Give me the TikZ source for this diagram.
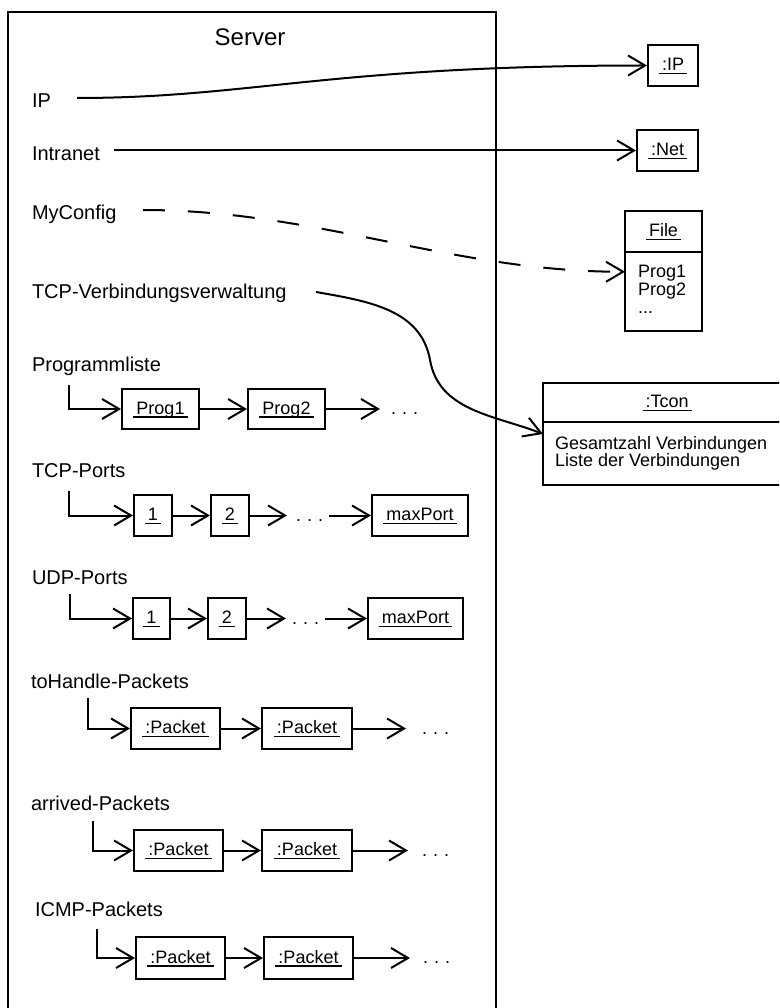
\documentclass[tikz,border=0pt]{standalone}
\usepackage{fontspec}
\setmainfont{Liberation Sans}
\usetikzlibrary{arrows.meta,calc}

% underlined object name, the rule running a little past the text
\newsavebox\ulbox
\newcommand\ulx[1]{\sbox\ulbox{#1}\rlap{\kern-3pt\rule[-3.3pt]{\dimexpr\wd\ulbox+6pt\relax}{1.3pt}}\usebox\ulbox}

\begin{document}
\begin{tikzpicture}[x=1pt,y=-1pt,line width=2pt,
  lbl/.style={anchor=base west,inner sep=0pt,font=\fontsize{20}{22}\selectfont},
  obj/.style={draw,rectangle,inner sep=0pt,minimum height=41pt,
              text height=13.5pt,text depth=3pt,font=\fontsize{18}{20}\selectfont},
  head/.style={obj,outer sep=0pt},
  frame/.style={draw,rectangle,inner sep=0pt,outer sep=0pt,anchor=north},
  txt/.style={anchor=base west,inner sep=0pt,font=\fontsize{18}{20}\selectfont},
  arr/.style={-{Straight Barb[length=17pt,width=20pt]}},
  cfgline/.style={dash pattern=on 22pt off 23pt}
]
\useasboundingbox (0,0) rectangle (779,1008);
\clip (0,0) rectangle (779,1008);

% the server object, open at the bottom edge
\draw (8,1020) -- (8,12) -- (496,12) -- (496,1020);
\node[font=\fontsize{24}{26}\selectfont,anchor=base,inner sep=0pt] (srv) at (250,46) {Server};

% attribute names
\node[lbl] (lIP)   at (31,108) {IP};
\node[lbl] (lNet)  at (31,161) {Intranet};
\node[lbl] (lCfg)  at (31,220) {MyConfig};
\node[lbl] (lTcp)  at (31,298) {TCP-Verbindungsverwaltung};
\node[lbl] (lProg) at (31,371) {Programmliste};
\node[lbl] (lTP)   at (31,477) {TCP-Ports};
\node[lbl] (lUP)   at (31,584) {UDP-Ports};
\node[lbl] (lTH)   at (30,688) {toHandle-Packets};
\node[lbl] (lAP)   at (30,810) {arrived-Packets};
\node[lbl] (lIC)   at (34,916) {ICMP-Packets};

% external objects
\node[obj,minimum width=50pt] (oIP)  at (673,65.5)  {\ulx{:IP}};
\node[obj,minimum width=61pt] (oNet) at (667.5,150.5) {\ulx{:Net}};

\node[head,minimum width=77pt] (fH) at (663.5,231.5) {\ulx{File}};
\node[frame,minimum width=77pt,minimum height=79pt] (fB) at (fH.south) {};
\node[txt] (fT1) at (637,277) {Prog1};
\node[txt] (fT2) at (637,295) {Prog2};
\node[txt] (fT3) at (637,313) {...};

\node[head,minimum width=248pt,minimum height=39pt] (tH) at (667,402.5) {\ulx{:Tcon}};
\node[frame,minimum width=248pt,minimum height=63pt] (tB) at (tH.south) {};
\node[txt] (tT1) at (554,449) {Gesamtzahl Verbindungen};
\node[txt] (tT2) at (554,466) {Liste der Verbindungen};

% links from the server attributes
\coordinate (sIP)  at (77,98);
\coordinate (sNet) at (114,150.5);
\coordinate (sCfg) at (143,210);
\coordinate (sTcp) at (316,292);
\draw[arr] (sIP) .. controls (250,98) and (330,65.5) .. (oIP.west);
\draw[arr] (sNet) -- (oNet.west);
\draw[arr,cfgline] (sCfg) .. controls (317,210) and (453,272) .. ($(fB.north west)!0.25!(fB.south west)$);
\draw[arr] (sTcp) .. controls (367,301) and (421,309) .. (430,360)
           .. controls (439,411) and (494,415) .. ($(tB.north west)!0.19!(tB.south west)$);

% Programmliste
\coordinate (pS) at (69,385);
\node[obj,minimum width=77pt,minimum height=40pt] (p1) at (160.5,409) {\ulx{Prog1}};
\node[obj,minimum width=77pt,minimum height=40pt] (p2) at (286.5,409) {\ulx{Prog2}};
\coordinate (pE) at (380,409);
\node[txt] (pD) at (390,414.5) {.\kern6pt.\kern6pt.};
\draw[arr] (pS) |- (p1.west);
\draw[arr] (p1.east) -- (p2.west);
\draw[arr] (p2.east) -- (pE);

% TCP-Ports
\coordinate (tS) at (69,491);
\node[obj,minimum width=38pt] (t1) at (153,515.5) {\ulx{1}};
\node[obj,minimum width=38pt] (t2) at (230,515.5) {\ulx{2}};
\coordinate (tE) at (287,515.5);
\node[txt] (tD) at (295,521) {.\kern6pt.\kern6pt.};
\coordinate (tM) at (329,515.5);
\node[obj,minimum width=96pt] (tMax) at (420,515.5) {\ulx{maxPort}};
\draw[arr] (tS) |- (t1.west);
\draw[arr] (t1.east) -- (t2.west);
\draw[arr] (t2.east) -- (tE);
\draw[arr] (tM) -- (tMax.west);

% UDP-Ports
\coordinate (uS) at (70,594);
\node[obj,minimum width=37pt] (u1) at (151.5,618.5) {\ulx{1}};
\node[obj,minimum width=38pt] (u2) at (227,618.5) {\ulx{2}};
\coordinate (uE) at (286,618.5);
\node[txt] (uD) at (291,624) {.\kern6pt.\kern6pt.};
\coordinate (uM) at (325,618.5);
\node[obj,minimum width=95pt] (uMax) at (415.5,618.5) {\ulx{maxPort}};
\draw[arr] (uS) |- (u1.west);
\draw[arr] (u1.east) -- (u2.west);
\draw[arr] (u2.east) -- (uE);
\draw[arr] (uM) -- (uMax.west);

% toHandle-Packets
\coordinate (hS) at (88,698);
\node[obj,minimum width=89pt] (h1) at (175.5,728.5) {\ulx{:Packet}};
\node[obj,minimum width=90pt] (h2) at (307,728.5) {\ulx{:Packet}};
\coordinate (hE) at (406,728.5);
\node[txt] (hD) at (421,734) {.\kern6pt.\kern6pt.};
\draw[arr] (hS) |- (h1.west);
\draw[arr] (h1.east) -- (h2.west);
\draw[arr] (h2.east) -- (hE);

% arrived-Packets
\coordinate (aS) at (93,821);
\node[obj,minimum width=89pt] (a1) at (178.5,850.5) {\ulx{:Packet}};
\node[obj,minimum width=90pt] (a2) at (307,850.5) {\ulx{:Packet}};
\coordinate (aE) at (408,850.5);
\node[txt] (aD) at (421,856) {.\kern6pt.\kern6pt.};
\draw[arr] (aS) |- (a1.west);
\draw[arr] (a1.east) -- (a2.west);
\draw[arr] (a2.east) -- (aE);

% ICMP-Packets
\coordinate (iS) at (97,929);
\node[obj,minimum width=89pt,minimum height=42pt] (i1) at (180.5,958) {\ulx{:Packet}};
\node[obj,minimum width=89pt,minimum height=42pt] (i2) at (308.5,958) {\ulx{:Packet}};
\coordinate (iE) at (410,958);
\node[txt] (iD) at (422,963.5) {.\kern6pt.\kern6pt.};
\draw[arr] (iS) |- (i1.west);
\draw[arr] (i1.east) -- (i2.west);
\draw[arr] (i2.east) -- (iE);
\end{tikzpicture}
\end{document}
